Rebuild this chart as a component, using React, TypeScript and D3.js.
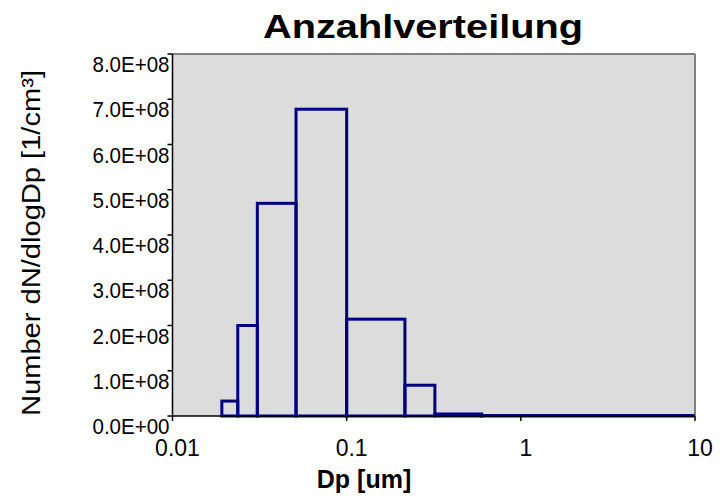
import React from 'react';
import * as d3 from 'd3';

// bin edges in um and dN/dlogDp per bin
const binEdges = [0.0192, 0.0237, 0.0307, 0.0512, 0.1, 0.216, 0.321, 0.596, 9.72];
const binValues = [3.3e7, 2.0e8, 4.7e8, 6.78e8, 2.14e8, 6.8e7, 4.5e6, 1.0e6];
const yTicks = [0, 1e8, 2e8, 3e8, 4e8, 5e8, 6e8, 7e8, 8e8];
const xTicks = [0.01, 0.1, 1, 10];
const xTickLabels = ['0.01', '0.1', '1', '10'];

const width = 720;
const height = 498;
const margin = { top: 54, right: 25, bottom: 82, left: 172.5 };
const font = '"Liberation Sans", Arial, sans-serif';

const fmtSci = (v: number) => {
  const [m, e] = v.toExponential(1).split('e');
  const exp = parseInt(e, 10);
  return `${m}E${exp < 0 ? '-' : '+'}${String(Math.abs(exp)).padStart(2, '0')}`;
};

export default function App() {
  const x = d3
    .scaleLog()
    .domain([0.01, 10])
    .range([margin.left, width - margin.right]);
  const y = d3
    .scaleLinear()
    .domain([0, 8e8])
    .range([height - margin.bottom, margin.top]);

  const x0 = x.range()[0];
  const x1 = x.range()[1];
  const y0 = y.range()[0];
  const y1 = y.range()[1];

  const bins = binValues.map((v, i) => ({
    x: x(binEdges[i]),
    w: x(binEdges[i + 1]) - x(binEdges[i]),
    y: y(v),
    h: y(0) - y(v),
  }));

  return (
    <svg width={width} height={height} style={{ position: 'absolute', left: 0, top: 0 }}>
      <rect x={0} y={0} width={width} height={height} fill="#ffffff" />
      {/* plot area */}
      <rect x={x0} y={y1} width={x1 - x0} height={y0 - y1} fill="#dcdcdc" />
      <line x1={x0} x2={x1} y1={y1} y2={y1} stroke="#808080" strokeWidth={2} />
      <line x1={x1} x2={x1} y1={y1} y2={y0} stroke="#808080" strokeWidth={2} />

      {/* bins */}
      {bins.map((b, i) => (
        <rect key={i} x={b.x} y={b.y} width={b.w} height={b.h}
          fill="none" stroke="#000080" strokeWidth={3} />
      ))}

      {/* axes */}
      <line x1={x0} x2={x0} y1={y1} y2={y0} stroke="#000" strokeWidth={1.5} />
      <line x1={x0} x2={x1} y1={y0} y2={y0} stroke="#000" strokeWidth={1.5} />
      {yTicks.map(t => (
        <g key={t}>
          <line x1={x0 - 5} x2={x0} y1={y(t)} y2={y(t)} stroke="#000" strokeWidth={1.5} />
          <text x={x0 - 3} y={y(t) + 18} textAnchor="end" fontFamily={font} fontSize={22}
            textLength={77} lengthAdjust="spacingAndGlyphs">{fmtSci(t)}</text>
        </g>
      ))}
      {xTicks.map((t, i) => (
        <g key={t}>
          <line x1={x(t)} x2={x(t)} y1={y0} y2={y0 + 5} stroke="#000" strokeWidth={1.5} />
          <text x={x(t) + 5} y={456} textAnchor="middle" fontFamily={font} fontSize={23}>{xTickLabels[i]}</text>
        </g>
      ))}

      {/* titles */}
      <text x={423} y={38} textAnchor="middle" fontFamily={font} fontSize={34} fontWeight="bold"
        textLength={320} lengthAdjust="spacingAndGlyphs">Anzahlverteilung</text>
      <text x={364} y={488} textAnchor="middle" fontFamily={font} fontSize={25} fontWeight="bold">Dp [um]</text>
      <text transform="translate(40,243) rotate(-90)" textAnchor="middle" fontFamily={font} fontSize={25}
        textLength={346} lengthAdjust="spacingAndGlyphs">
        Number dN/dlogDp [1/cm<tspan>³</tspan>]
      </text>
    </svg>
  );
}
